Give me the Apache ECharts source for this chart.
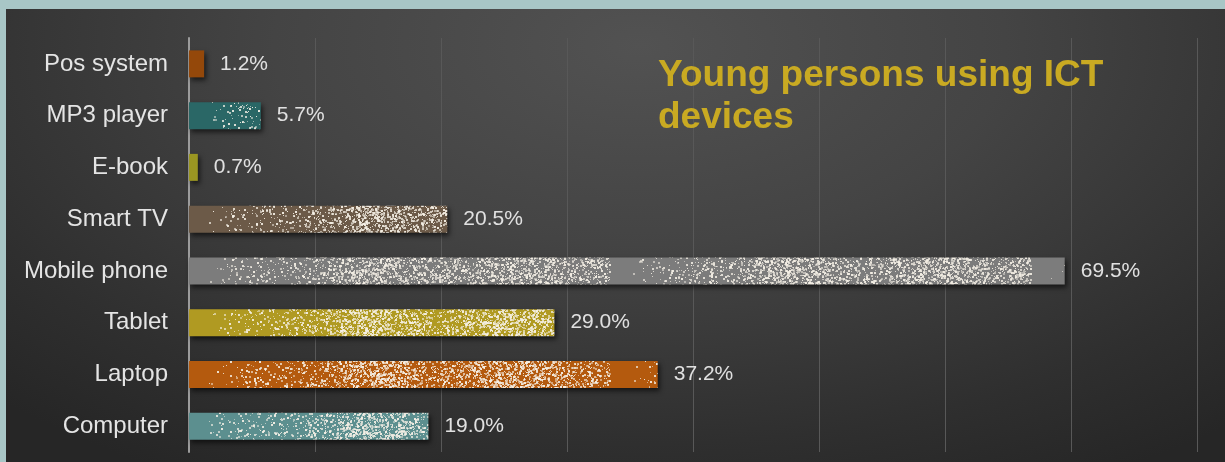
<!DOCTYPE html>
<html>
<head>
<meta charset="utf-8">
<script src="https://cdn.jsdelivr.net/npm/echarts@6/dist/echarts.min.js"></script>
<style>
  html, body { margin: 0; padding: 0; width: 1225px; height: 462px; overflow: hidden; background: #a8c6c6; }
  #chart {
    position: absolute; left: 6px; top: 9px; width: 1219px; height: 453px;
    background: radial-gradient(ellipse 75% 110% at 52% 8%, #525252 0%, #444444 40%, #2f2f2f 80%, #262626 100%);
  }
</style>
</head>
<body>
<div id="chart"></div>
<script>
// Device categories, listed bottom to top
const categories = ['Computer', 'Laptop', 'Tablet', 'Mobile phone', 'Smart TV', 'E-book', 'MP3 player', 'Pos system'];
// Share of young persons using each device (%)
const values = [19.0, 37.2, 29.0, 69.5, 20.5, 0.7, 5.7, 1.2];
// Base colour of each bar
const barColors = ['#5c8f8f', '#b45a0e', '#b09a22', '#7c7c7c', '#6c5a48', '#9a9622', '#2a6766', '#94480a'];
const titleText = 'Young persons using ICT devices';

const W = 1219, H = 453;
const GRID_LEFT = 183, TILE = 421;

// Deterministic generator for the grain texture
function mulberry32(a) {
  return function () {
    a |= 0; a = a + 0x6D2B79F5 | 0;
    let t = Math.imul(a ^ a >>> 15, 1 | a);
    t = t + Math.imul(t ^ t >>> 7, 61 | t) ^ t;
    return ((t ^ t >>> 14) >>> 0) / 4294967296;
  };
}

// Grain layer: light flecks that thicken across each tile of the bar fill
const grain = document.createElement('canvas');
grain.width = W; grain.height = H;
(function () {
  const g = grain.getContext('2d');
  const rnd = mulberry32(20240611);
  for (let x = GRID_LEFT + 2; x < W; x++) {
    const u = (x - GRID_LEFT) % TILE;
    let d = 0;
    if (u > 18) d = Math.min(1, (u - 18) / 150);
    d *= 0.22 + 0.06 * Math.sin(u / 23);
    for (let y = 0; y < H; y++) {
      if (rnd() < d) {
        const a = 0.45 + rnd() * 0.5;
        g.fillStyle = 'rgba(245,240,230,' + a.toFixed(2) + ')';
        const s = rnd() < 0.45 ? 2 : 1;
        g.fillRect(x, y, s, s);
      }
    }
  }
})();

function texture(color) {
  const c = document.createElement('canvas');
  c.width = W; c.height = H;
  const g = c.getContext('2d');
  g.fillStyle = color;
  g.fillRect(0, 0, W, H);
  g.filter = 'blur(0.6px)';
  g.drawImage(grain, 0, 0);
  return { image: c, repeat: 'no-repeat' };
}

const chart = echarts.init(document.getElementById('chart'), null, { renderer: 'canvas' });

chart.setOption({
  animation: false,
  backgroundColor: 'transparent',
  title: {
    text: titleText.replace(' devices', '\ndevices'),
    left: 647,
    top: 41,
    textStyle: {
      fontFamily: 'Liberation Sans, Arial, sans-serif',
      fontSize: 37,
      fontWeight: 'bold',
      lineHeight: 42,
      color: '#c9aa22'
    }
  },
  grid: { left: GRID_LEFT, right: 28, top: 29, bottom: 10, containLabel: false },
  xAxis: {
    type: 'value',
    min: 0, max: 80, interval: 10,
    axisLine: { show: false },
    axisTick: { show: false },
    axisLabel: { show: false },
    splitLine: { show: true, lineStyle: { color: '#585858', width: 1 } }
  },
  yAxis: {
    type: 'category',
    data: categories,
    axisLine: { show: true, lineStyle: { color: '#9c9c9c', width: 2 } },
    axisTick: { show: false },
    axisLabel: {
      margin: 21,
      fontFamily: 'Liberation Sans, Arial, sans-serif',
      fontSize: 24,
      color: '#e4e4e4'
    }
  },
  series: [{
    type: 'bar',
    barWidth: 27,
    data: values.map((v, i) => ({
      value: v,
      itemStyle: {
        color: texture(barColors[i]),
        shadowBlur: 5,
        shadowOffsetX: 2,
        shadowOffsetY: 3,
        shadowColor: 'rgba(0,0,0,0.6)'
      }
    })),
    label: {
      show: true,
      position: 'right',
      distance: 16,
      fontFamily: 'Liberation Sans, Arial, sans-serif',
      fontSize: 21,
      color: '#e0e0e0',
      formatter: p => p.value.toFixed(1) + '%'
    }
  }]
});
</script>
</body>
</html>
